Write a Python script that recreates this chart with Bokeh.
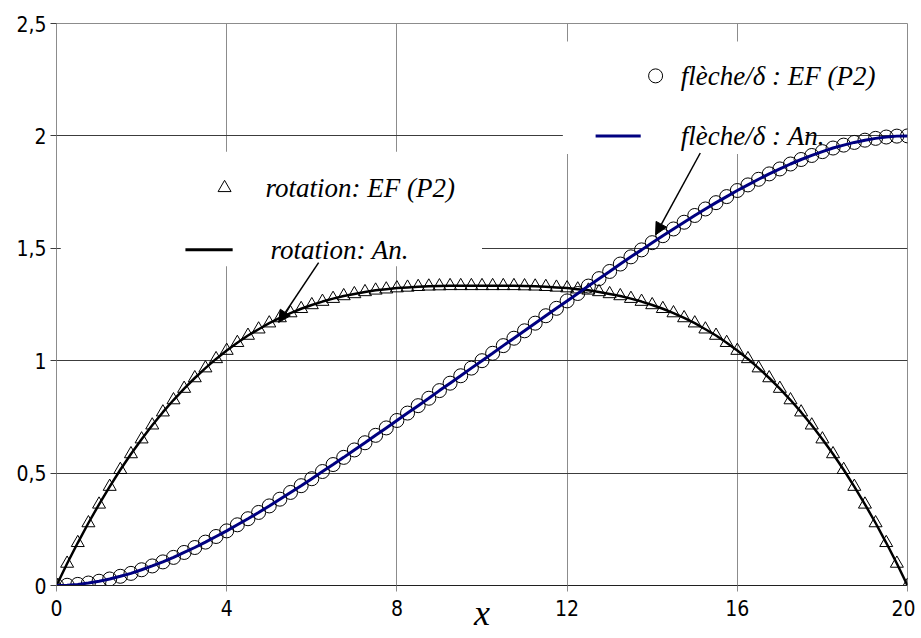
import numpy as np
from bokeh.plotting import figure
from bokeh.models import Arrow, NormalHead, FixedTicker
from bokeh.core.properties import value
from bokeh.embed import file_html
from bokeh.resources import INLINE

# ---- data ----
x = np.linspace(0, 20, 81)

rotation = [
    0, 0.098, 0.190, 0.278, 0.361, 0.440, 0.515, 0.585, 0.651, 0.713,
    0.771, 0.825, 0.876, 0.923, 0.967, 1.008, 1.045, 1.080, 1.112, 1.140,
    1.167, 1.190, 1.212, 1.231, 1.248, 1.263, 1.276, 1.288, 1.297, 1.306,
    1.313, 1.318, 1.323, 1.326, 1.329, 1.331, 1.332, 1.333, 1.333, 1.333,
    1.333,
    1.333, 1.333, 1.333, 1.332, 1.331, 1.329, 1.326, 1.323, 1.318, 1.313,
    1.306, 1.297, 1.288, 1.276, 1.263, 1.248, 1.231, 1.212, 1.190, 1.167,
    1.140, 1.112, 1.080, 1.045, 1.008, 0.967, 0.923, 0.876, 0.825, 0.771,
    0.713, 0.651, 0.585, 0.515, 0.440, 0.361, 0.278, 0.190, 0.098, 0,
]

fleche = [
    0, 0.001, 0.005, 0.011, 0.019, 0.029, 0.041, 0.054, 0.070, 0.087,
    0.105, 0.125, 0.147, 0.169, 0.193, 0.218, 0.243, 0.270, 0.297, 0.325,
    0.354, 0.384, 0.414, 0.444, 0.475, 0.507, 0.538, 0.570, 0.603, 0.635,
    0.668, 0.701, 0.734, 0.767, 0.800, 0.833, 0.867, 0.900, 0.933, 0.967,
    1.000,
    1.033, 1.067, 1.100, 1.133, 1.167, 1.200, 1.233, 1.266, 1.299, 1.332,
    1.365, 1.397, 1.430, 1.462, 1.493, 1.525, 1.556, 1.586, 1.616, 1.646,
    1.675, 1.703, 1.730, 1.757, 1.782, 1.807, 1.831, 1.853, 1.875, 1.895,
    1.913, 1.930, 1.946, 1.959, 1.971, 1.981, 1.989, 1.995, 1.999, 2.000,
]

x_ticks = [0, 4, 8, 12, 16, 20]
y_ticks = [0, 0.5, 1, 1.5, 2, 2.5]
y_tick_labels = ["0", "0,5", "1", "1,5", "2", "2,5"]
x_title = "x"

labels = {
    "fl_ef": "flèche/δ : EF (P2)",
    "fl_an": "flèche/δ : An.",
    "rot_ef": "rotation: EF (P2)",
    "rot_an": "rotation: An.",
}

SERIF = "Liberation Serif, Tinos, DejaVu Serif, Noto Serif, serif"
SANS = "DejaVu Sans Condensed, Liberation Sans Narrow, sans-serif"

# ---- figure ----
p = figure(width=915, height=638, x_range=(0, 20), y_range=(0, 2.5),
           output_backend="svg", toolbar_location=None,
           min_border_left=56, min_border_right=8,
           min_border_top=23, min_border_bottom=53)
p.background_fill_color = "white"
p.border_fill_color = "white"
p.outline_line_color = "#8c8c8c"

p.xaxis.ticker = FixedTicker(ticks=x_ticks)
p.yaxis.ticker = FixedTicker(ticks=y_ticks)
p.yaxis.major_label_overrides = {t: l for t, l in zip(y_ticks, y_tick_labels)}
for ax in (p.xaxis, p.yaxis):
    ax.major_label_text_font = SANS
    ax.major_label_text_font_size = "21px"
    ax.major_label_text_color = "black"
    ax.major_tick_in = 0
    ax.major_tick_out = 6
    ax.minor_tick_line_color = None
p.xaxis.axis_line_color = "#202020"
p.xaxis.major_tick_line_color = "#8c8c8c"
p.yaxis.axis_line_color = "#8c8c8c"
p.yaxis.major_tick_line_color = "#3c3c3c"
p.xaxis.major_label_standoff = 8
p.yaxis.major_label_standoff = 4

p.xaxis.axis_label = x_title
p.xaxis.axis_label_text_font = SERIF
p.xaxis.axis_label_text_font_style = "italic"
p.xaxis.axis_label_text_font_size = "36px"
p.xaxis.axis_label_text_color = "black"
p.xaxis.axis_label_standoff = -26

p.xgrid.grid_line_color = "#8c8c8c"
p.ygrid.grid_line_color = "#3c3c3c"

# white boxes behind legend texts (hide grid lines)
p.quad(left=[0.1, 11.9], right=[10.0, 18.9], bottom=[1.42, 2.10], top=[1.93, 2.42],
       fill_color="white", line_color=None)
p.quad(left=[11.9], right=[17.6], bottom=[1.92], top=[2.12],
       fill_color="white", line_color=None)

# markers
p.scatter(x, rotation, marker="triangle", size=13, fill_alpha=0,
          line_color="black", line_width=1)
p.scatter(x, fleche, marker="circle", size=14, fill_alpha=0,
          line_color="black", line_width=1)
# analytic lines
p.line(x, rotation, line_color="black", line_width=2.5)
p.line(x, fleche, line_color="#000080", line_width=3)

# legend-like entries
serif = value(SERIF)
p.scatter([14.08], [2.267], marker="circle", size=14, fill_alpha=0, line_color="black")
p.line([12.67, 13.73], [2.0, 2.0], line_color="#000080", line_width=3)
p.scatter([3.95], [1.769], marker="triangle", size=13, fill_alpha=0, line_color="black")
p.line([3.03, 4.14], [1.493, 1.493], line_color="black", line_width=3)

p.text(x=[14.67, 14.67, 4.91, 5.03], y=[2.267, 2.0, 1.769, 1.493],
       text=[labels["fl_ef"], labels["fl_an"], labels["rot_ef"], labels["rot_an"]],
       text_font=serif, text_font_style="italic", text_font_size="27px",
       text_baseline="middle", text_align="left", text_color="black")

# arrows
p.add_layout(Arrow(end=NormalHead(size=12, fill_color="black", line_color="black"),
                   x_start=15.13, y_start=1.924, x_end=14.08, y_end=1.56,
                   line_color="black", line_width=1.5))
p.add_layout(Arrow(end=NormalHead(size=12, fill_color="black", line_color="black"),
                   x_start=6.16, y_start=1.436, x_end=5.22, y_end=1.17,
                   line_color="black", line_width=1.5))

open("out.html", "w").write(file_html(p, INLINE))
